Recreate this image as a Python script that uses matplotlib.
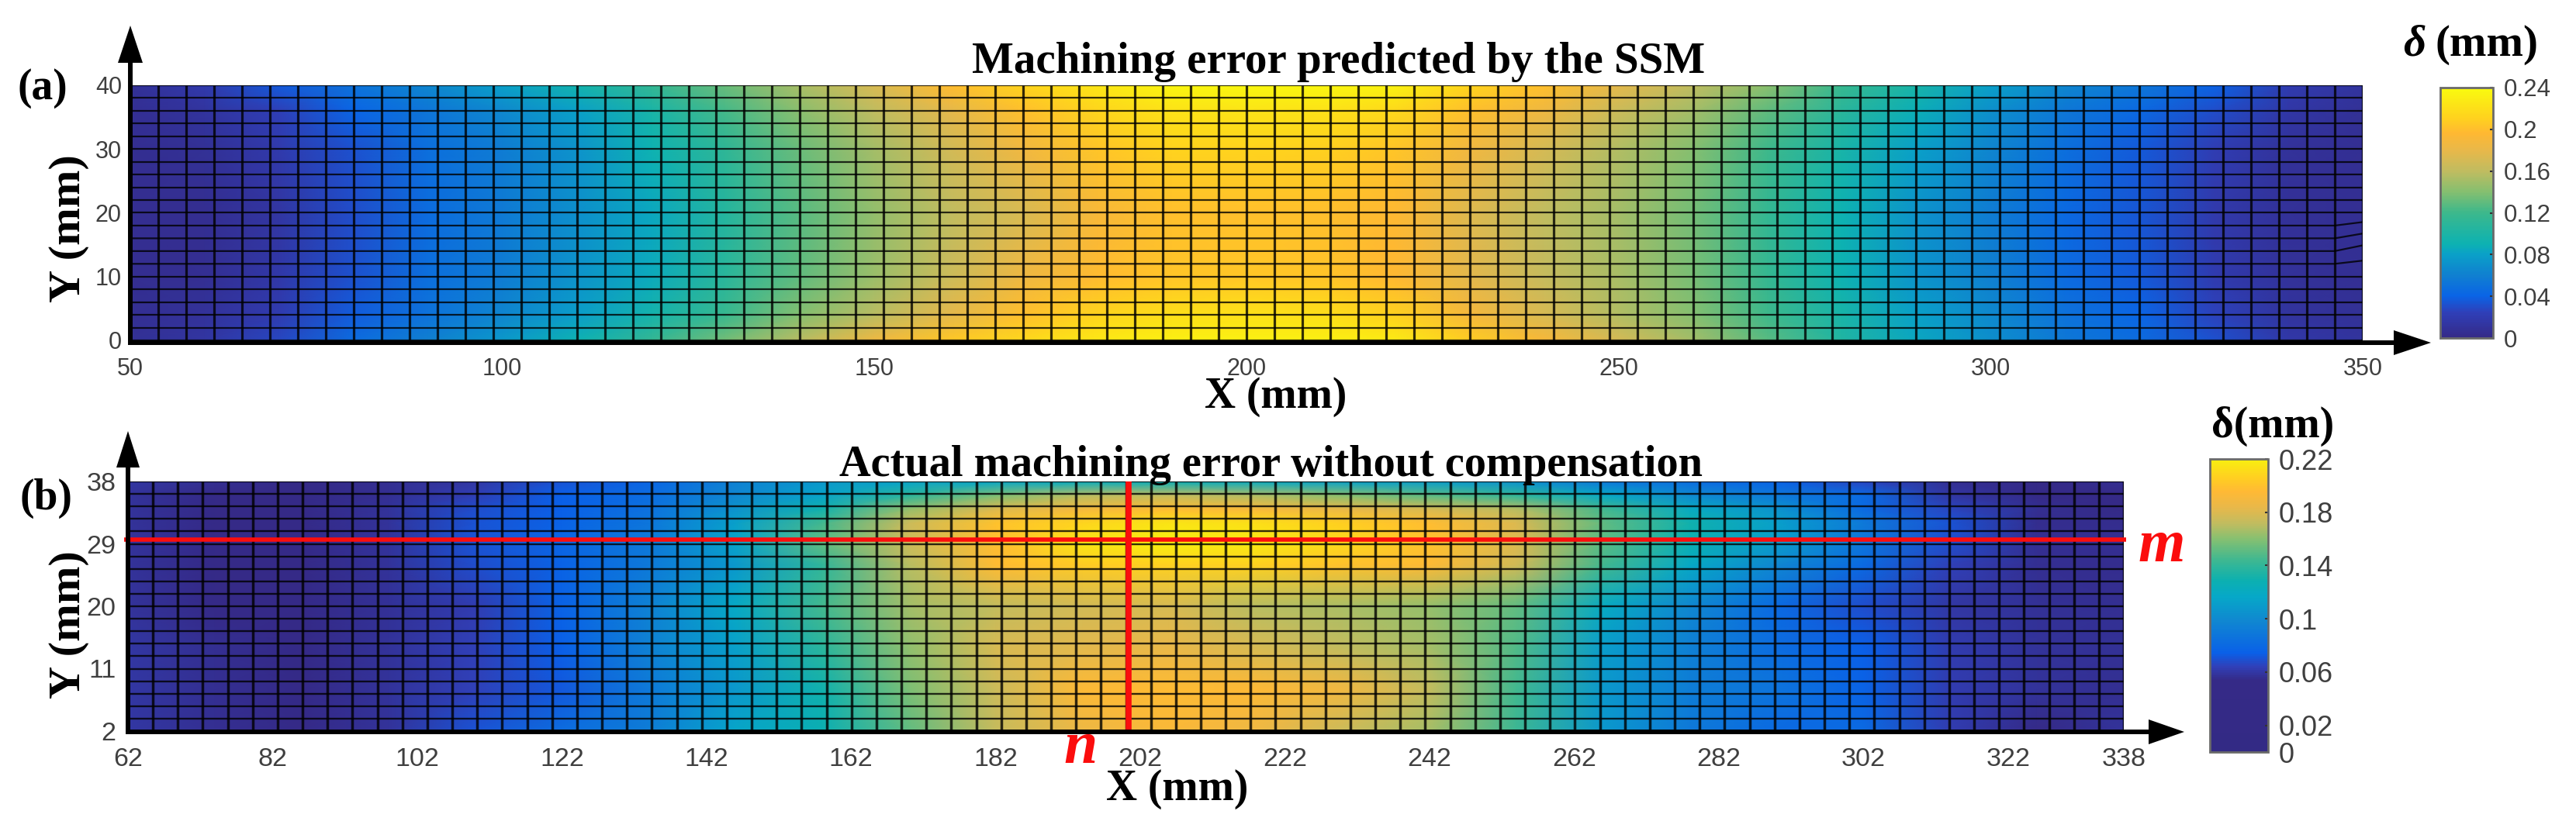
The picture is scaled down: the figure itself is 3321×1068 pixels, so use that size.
import numpy as np
import matplotlib
matplotlib.use('Agg')
import matplotlib.pyplot as plt
from matplotlib.colors import LinearSegmentedColormap, Normalize
from matplotlib.patches import Polygon

W, H = 3321, 1068
SANS = 'Liberation Sans'
SERIF = 'Liberation Serif'
GREY = '#3f3f3f'

# panel (a): error, mm
xa = [50, 60, 70, 80, 90, 100, 110, 120, 130, 140, 150, 160, 170, 180, 190, 200,
      210, 220, 230, 240, 250, 260, 270, 280, 290, 300, 310, 320, 330, 340, 350]
ya = [0, 4, 10, 20, 30, 36, 40]
za_y0 = [.008, .014, .028, .046, .060, .075, .090, .115, .135, .158, .185, .205, .215, .226, .232, .232,
         .232, .228, .208, .192, .170, .150, .128, .103, .084, .070, .055, .046, .032, .016, .012]
za_y4 = [.006, .010, .020, .037, .050, .063, .078, .095, .118, .140, .158, .178, .200, .212, .220, .222,
         .220, .210, .190, .172, .155, .140, .120, .098, .080, .066, .050, .042, .026, .012, .008]
za_y10 = [.005, .006, .016, .032, .048, .058, .072, .086, .108, .130, .148, .165, .185, .198, .204, .205,
          .204, .196, .178, .163, .152, .136, .116, .090, .073, .060, .045, .036, .020, .010, .006]
za_y20 = [.005, .005, .014, .030, .046, .056, .070, .084, .105, .128, .145, .160, .172, .192, .200, .201,
          .200, .195, .175, .160, .150, .135, .115, .090, .072, .058, .044, .034, .018, .009, .006]
za_y30 = [.005, .008, .018, .032, .048, .058, .072, .090, .112, .133, .150, .168, .186, .204, .211, .212,
          .210, .204, .186, .170, .155, .140, .120, .098, .080, .063, .048, .036, .022, .010, .006]
za_y36 = [.006, .012, .024, .041, .053, .065, .080, .098, .122, .142, .160, .178, .200, .213, .222, .224,
          .222, .215, .200, .185, .165, .150, .130, .108, .088, .070, .054, .044, .030, .015, .008]
za_y40 = [.008, .018, .036, .051, .064, .080, .094, .115, .133, .152, .172, .198, .212, .225, .236, .238,
          .237, .234, .212, .200, .178, .160, .142, .118, .098, .080, .064, .054, .040, .020, .012]

xb = [62, 74, 86, 98, 110, 122, 134, 146, 158, 170, 182, 194,
      206, 218, 230, 242, 254, 266, 278, 290, 302, 314, 326, 338]
yb = [2, 8, 14, 20, 26, 29, 32, 34, 36, 38]
zb_y2 = [.060, .056, .052, .058, .070, .082, .092, .115, .128, .152, .173, .186,
         .193, .187, .175, .166, .143, .108, .090, .080, .080, .062, .054, .058]
zb_y8 = [.060, .056, .052, .058, .064, .072, .090, .108, .130, .158, .175, .195,
         .196, .195, .188, .172, .145, .108, .092, .086, .076, .062, .058, .056]
zb_y14 = [.060, .056, .054, .058, .064, .074, .095, .112, .138, .162, .178, .182,
          .184, .178, .172, .166, .148, .110, .094, .082, .074, .062, .058, .057]
zb_y20 = [.058, .054, .054, .057, .062, .076, .095, .118, .145, .165, .172, .177,
          .178, .170, .167, .163, .152, .120, .098, .080, .068, .060, .057, .056]
zb_y26 = [.058, .053, .052, .058, .068, .076, .090, .108, .140, .170, .196, .204,
          .207, .207, .200, .195, .177, .145, .118, .098, .080, .064, .056, .055]
zb_y29 = [.058, .053, .052, .058, .070, .078, .090, .114, .152, .175, .197, .215,
          .220, .217, .210, .200, .180, .150, .128, .110, .088, .068, .056, .056]
zb_y32 = [.058, .053, .051, .058, .070, .076, .088, .112, .145, .175, .200, .208,
          .215, .213, .206, .197, .180, .152, .130, .112, .090, .070, .055, .055]
zb_y34 = [.058, .053, .050, .058, .068, .074, .085, .105, .130, .163, .180, .190,
          .197, .192, .184, .178, .170, .145, .120, .105, .080, .066, .056, .054]
zb_y36 = [.058, .053, .050, .056, .063, .074, .082, .098, .114, .138, .158, .170,
          .172, .168, .160, .150, .140, .118, .100, .090, .080, .060, .052, .054]
zb_y38 = [.060, .056, .052, .056, .060, .070, .078, .095, .108, .114, .116, .122,
          .125, .120, .112, .110, .104, .090, .082, .076, .066, .056, .050, .056]

xticks_a = [50, 100, 150, 200, 250, 300, 350]
yticks_a = [0, 10, 20, 30, 40]
xticks_b = [62, 82, 102, 122, 142, 162, 182, 202, 222, 242, 262, 282, 302, 322, 338]
yticks_b = [2, 11, 20, 29, 38]
cticks_a = [0, 0.04, 0.08, 0.12, 0.16, 0.2, 0.24]
clabels_a = ['0', '0.04', '0.08', '0.12', '0.16', '0.2', '0.24']
cticks_b = [0, 0.02, 0.06, 0.1, 0.14, 0.18, 0.22]
clabels_b = ['0', '0.02', '0.06', '0.1', '0.14', '0.18', '0.22']

# the mesh lines bend near the right end of panel (a)
bent_rows = [12, 14, 16, 18]
bent_dy = [0.5, 0.9, 0.75, 0.55]

cmap_a = LinearSegmentedColormap.from_list('a', [
    (0, '#352a87'), (.1, '#2f3fb8'), (.167, '#0a64e6'), (.25, '#1080d0'), (.333, '#0aa0c8'),
    (.375, '#0db2b2'), (.5, '#3cb88c'), (.583, '#84bf70'), (.667, '#c0bc60'), (.75, '#e8b84a'),
    (.82, '#ffb832'), (.88, '#ffd21e'), (1, '#f9fb0e')])
cmap_b = LinearSegmentedColormap.from_list('b', [
    (0, '#332a85'), (.245, '#352a87'), (.29, '#3040b8'), (.337, '#0a60e8'), (.45, '#1088d0'),
    (.53, '#06a8c8'), (.586, '#0cb0b0'), (.657, '#40b890'), (.73, '#88c070'), (.78, '#c0bc60'),
    (.835, '#e8b84a'), (.89, '#ffb935'), (.94, '#ffd020'), (1, '#f8ef10')])


def px_axes(left, top, right, bottom, **kw):
    return fig.add_axes([left / W, 1 - bottom / H, (right - left) / W, (bottom - top) / H], **kw)


def mesh_lines(ax, gx, gy, lw_h, lw_v):
    ax.plot(gx, gy, color='k', lw=lw_h, alpha=.8, solid_capstyle='butt')
    ax.plot(gx.T, gy.T, color='k', lw=lw_v, alpha=.8, solid_capstyle='butt')


def panel(ax, x, y, z, cmap, vmax, xt, yt, xpad, ypad, size):
    m = ax.pcolormesh(x, y, z, shading='gouraud', cmap=cmap, norm=Normalize(0, vmax), rasterized=True)
    ax.set_xticks(xt)
    ax.set_yticks(yt)
    ax.tick_params(axis='x', length=0, pad=xpad, labelsize=size, labelcolor=GREY)
    ax.tick_params(axis='y', length=0, pad=ypad, labelsize=size, labelcolor=GREY)
    for s in ax.spines.values():
        s.set_visible(False)
    return m


def colorbar(m, cax, ticks, labels, size, pad):
    cb = fig.colorbar(m, cax=cax)
    cb.set_ticks(ticks)
    cb.set_ticklabels(labels)
    cb.ax.tick_params(direction='in', length=3, width=1.5, color='#333333', pad=pad,
                      labelsize=size, labelcolor=GREY)
    cb.outline.set_edgecolor('#6a6a6a')
    cb.outline.set_linewidth(2)
    return cb


plt.rcParams['font.family'] = [SANS, 'DejaVu Sans']
fig = plt.figure(figsize=(W / 100, H / 100), dpi=100)

# panel a
ax_a = px_axes(168, 110, 3046, 439)
za = np.array([za_y0, za_y4, za_y10, za_y20, za_y30, za_y36, za_y40])
mesh_a = panel(ax_a, xa, ya, za, cmap_a, 0.24, xticks_a, yticks_a, 16, 8, 22)
gx, gy = np.meshgrid(np.linspace(50, 350, 81), np.linspace(0, 40, 21))
for r, d in zip(bent_rows, bent_dy):
    gy[r // 2, -1] += d
mesh_lines(ax_a, gx, gy, 2.3, 1.6)
ax_a.set_xlim(50, 350)
ax_a.set_ylim(0, 40)

cax_a = px_axes(3146, 113, 3214, 436)
colorbar(mesh_a, cax_a, cticks_a, clabels_a, 22.5, 10)

# panel b
ax_b = px_axes(165, 621, 2738, 943)
zb = np.array([zb_y2, zb_y8, zb_y14, zb_y20, zb_y26, zb_y29, zb_y32, zb_y34, zb_y36, zb_y38])
mesh_b = panel(ax_b, xb, yb, zb, cmap_b, 0.22, xticks_b, yticks_b, 15, 11, 24.5)
gx, gy = np.meshgrid(np.linspace(62, 338, 81), np.linspace(2, 38, 21))
mesh_lines(ax_b, gx, gy, 2.5, 1.7)
ax_b.hlines(29.65, 61.5, 338.3, color='#fb0d0d', lw=4, clip_on=False, zorder=5)
ax_b.vlines(200.4, 2, 38, color='#fb0d0d', lw=5.5, clip_on=False, zorder=5)
ax_b.set_xlim(62, 338)
ax_b.set_ylim(2, 38)

cax_b = px_axes(2849, 592, 2924, 970)
colorbar(mesh_b, cax_b, cticks_b, clabels_b, 26, 10)

# overlay in pixel coordinates for the hand drawn arrows and the labels
ov = fig.add_axes([0, 0, 1, 1], zorder=10)
ov.set_xlim(0, W)
ov.set_ylim(H, 0)
ov.axis('off')

for x0, y0, ytip, ybase, xtip, xbase, hw, hh in [
        (168, 442, 33, 81, 3134, 3086, 16, 16), (165, 944, 556, 603, 2816, 2770, 15, 16)]:
    ov.plot([x0, x0, xbase], [ybase, y0, y0], color='k', lw=4.3, solid_joinstyle='miter')
    ov.add_patch(Polygon([(x0 - hw, ybase), (x0 + hw, ybase), (x0, ytip)], color='k', lw=0))
    ov.add_patch(Polygon([(xbase, y0 - hh), (xbase, y0 + hh), (xtip, y0)], color='k', lw=0))

serif = dict(family=SERIF, fontweight='bold', ha='center', va='center', color='k')
ov.text(1726, 80, 'Machining error predicted by the SSM', fontsize=41, **serif)
ov.text(1639, 600, 'Actual machining error without compensation', fontsize=40.6, **serif)
ov.text(1645, 512, 'X (mm)', fontsize=40, **serif)
ov.text(1518, 1018, 'X (mm)', fontsize=40, **serif)
ov.text(89, 295, 'Y (mm)', fontsize=42, rotation=90, **serif)
ov.text(89, 806, 'Y (mm)', fontsize=42, rotation=90, **serif)
ov.text(55, 114, '(a)', fontsize=40, **serif)
ov.text(59, 643, '(b)', fontsize=40, **serif)
ov.text(3098, 58, 'δ', fontsize=41, family=SERIF, style='italic', fontweight='bold', ha='left', va='center')
ov.text(3272, 58, '(mm)', fontsize=41, family=SERIF, fontweight='bold', ha='right', va='center')
ov.text(2930, 550, 'δ(mm)', fontsize=40, **serif)
ov.text(2787, 705, 'm', fontsize=56, style='italic', family=SERIF, fontweight='bold', color='#fb0d0d',
        ha='center', va='center')
ov.text(1393, 966, 'n', fontsize=56, style='italic', family=SERIF, fontweight='bold', color='#fb0d0d',
        ha='center', va='center')

fig.savefig('out.png', dpi=100)
